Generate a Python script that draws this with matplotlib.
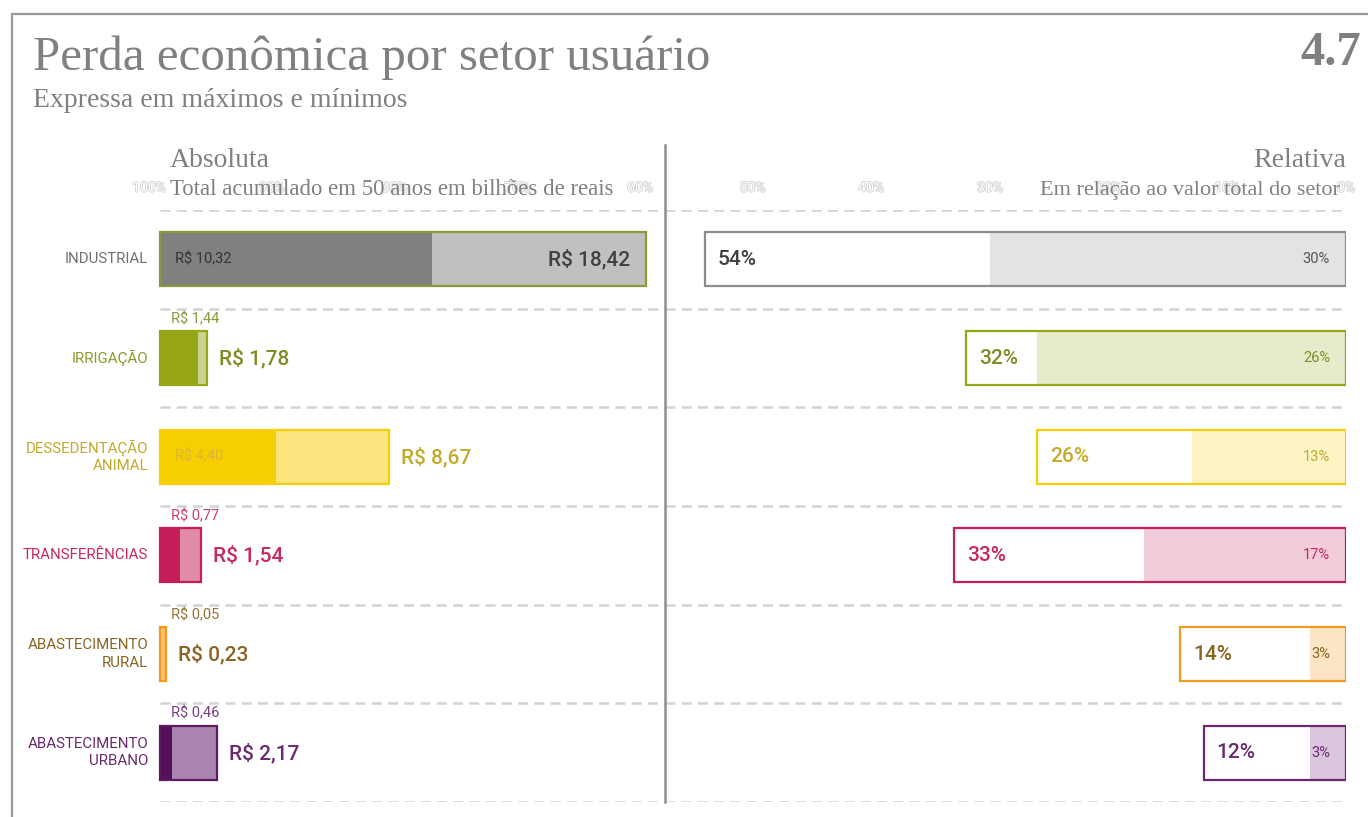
import matplotlib
matplotlib.use("Agg")
import matplotlib.pyplot as plt
import matplotlib.patheffects as pe
from matplotlib.patches import Rectangle
import numpy as np

# data
sectors = ["INDUSTRIAL", "IRRIGAÇÃO", "DESSEDENTAÇÃO\nANIMAL", "TRANSFERÊNCIAS",
           "ABASTECIMENTO\nRURAL", "ABASTECIMENTO\nURBANO"]
abs_min = [10.32, 1.44, 4.40, 0.77, 0.05, 0.46]   # R$ bilhões
abs_max = [18.42, 1.78, 8.67, 1.54, 0.23, 2.17]
rel_max = [54, 32, 26, 33, 14, 12]                # % do valor total do setor
rel_min = [30, 26, 13, 17, 3, 3]
left_ticks = [100, 90, 80, 70, 60]
right_ticks = [50, 40, 30, 20, 10, 0]

# colours per sector
abs_dark = ["#808080", "#97A617", "#F7CE00", "#C41E5A", "#F39A1E", "#541058"]
abs_light = ["#C0C0C0", "#C9D38F", "#FCE57F", "#E08BA8", "#F9C070", "#A985B0"]
abs_edge = ["#8C9B3A", "#97A617", "#F7CE00", "#C41E5A", "#F39A1E", "#5C1A60"]
rel_light = ["#E3E3E3", "#E6EBCB", "#FDF3C4", "#F1CCDB", "#FCE5C5", "#DCC6DF"]
rel_edge = ["#8C8C8C", "#97A617", "#F7CE00", "#C41E5A", "#F39A1E", "#6B2A70"]
txt_col = ["#404040", "#7E8C24", "#C4A92C", "#C8285E", "#8B6420", "#6A2A6E"]
cat_col = ["#707070", "#8A9A2A", "#C4A92C", "#C8285E", "#8B6420", "#6A2A6E"]
min_in_col = ["#333333", None, "#D8B63A", None, None, None]

SERIF = "Liberation Serif"
VAL = ["Roboto", "DejaVu Sans"]
GREY = "#808080"

W, H = 1368, 817
fig = plt.figure(figsize=(W / 100, H / 100), dpi=100)
fig.patch.set_facecolor("white")


def fx(px):
    return px / W


def fy(py):
    return 1 - py / H


top, bottom = 210, 802
ax_l = fig.add_axes([fx(140), fy(bottom), fx(665) - fx(140), (bottom - top) / H])
ax_r = fig.add_axes([fx(665), fy(bottom), fx(1346) - fx(665), (bottom - top) / H])

y = np.arange(len(sectors))
h = 0.55
l_scale = 26.39   # px per bilhão
r_scale = 11.87   # px per %

# ---- left panel: absolute ----
ax_l.set_xlim(-20 / l_scale, 505 / l_scale)
ax_l.set_ylim(len(sectors) - 0.5, -0.5)
ax_l.barh(y, abs_max, height=h, color=abs_light, linewidth=0, zorder=2)
ax_l.barh(y, abs_min, height=h, color=abs_dark, linewidth=0, zorder=3)
ax_l.barh(y, abs_max, height=h, fill=False, edgecolor=abs_edge, linewidth=1.6, zorder=4)
ax_l.hlines(np.arange(len(sectors) + 1) - 0.5, 0, 505 / l_scale, colors="#D3D3D3",
            linestyles=(0, (4, 2.5)), linewidth=1.8, zorder=1)

for i in range(len(sectors)):
    ax_l.annotate(sectors[i], xy=(0, i), xytext=(-12, 0), textcoords="offset pixels",
                  ha="right", va="center", fontsize=10.8, color=cat_col[i],
                  family=VAL, linespacing=1.3)
    mx = f"R$ {abs_max[i]:.2f}".replace(".", ",")
    mn = f"R$ {abs_min[i]:.2f}".replace(".", ",")
    if abs_max[i] > 10:
        ax_l.annotate(mx, xy=(abs_max[i], i), xytext=(-16, 0), textcoords="offset pixels",
                      ha="right", va="center", fontsize=15, color=txt_col[i],
                      family=VAL, fontweight="medium", zorder=5)
    else:
        ax_l.annotate(mx, xy=(abs_max[i], i), xytext=(12, 0), textcoords="offset pixels",
                      ha="left", va="center", fontsize=15, color=txt_col[i],
                      family=VAL, fontweight="medium")
    if abs_min[i] > 2:
        ax_l.annotate(mn, xy=(0, i), xytext=(15, 0), textcoords="offset pixels",
                      ha="left", va="center", fontsize=10.5, color=min_in_col[i],
                      family=VAL, zorder=5)
    else:
        ax_l.annotate(mn, xy=(0, i - h / 2), xytext=(11, 5), textcoords="offset pixels",
                      ha="left", va="bottom", fontsize=10.5, color=txt_col[i],
                      family=VAL, alpha=0.9)

# ghost percentage ticks on the left
ax_lt = ax_l.twiny()
px_per_pct = (640 - 149) / 40
ax_lt.set_xlim(100 + 9 / px_per_pct, 100 - 516 / px_per_pct)
ax_lt.set_xticks(left_ticks)
ax_lt.set_xticklabels([f"{t}%" for t in left_ticks])

# ---- right panel: relative ----
ax_r.set_xlim(681 / r_scale, 0)
ax_r.set_ylim(len(sectors) - 0.5, -0.5)
ax_r.barh(y, rel_max, height=h, color="white", linewidth=0, zorder=2)
ax_r.barh(y, rel_min, height=h, color=rel_light, linewidth=0, zorder=3)
ax_r.barh(y, rel_max, height=h, fill=False, edgecolor=rel_edge, linewidth=1.6, zorder=4)
for b in np.arange(len(sectors) + 1) - 0.5:
    ax_r.axhline(b, color="#D3D3D3", linestyle=(0, (4, 2.5)), linewidth=1.8, zorder=1)
ax_r.axvline(681 / r_scale, ymin=0, ymax=1 + 65 / (bottom - top), color="#8F8F8F",
             linewidth=1.8, clip_on=False, zorder=6)

for i in range(len(sectors)):
    ax_r.annotate(f"{rel_max[i]}%", xy=(rel_max[i], i), xytext=(13, 0),
                  textcoords="offset pixels", ha="left", va="center", fontsize=15,
                  color=txt_col[i], family=VAL, fontweight="medium", zorder=5)
    ax_r.annotate(f"{rel_min[i]}%", xy=(0, i), xytext=(-16, 0),
                  textcoords="offset pixels", ha="right", va="center", fontsize=10.5,
                  color=txt_col[i] if i else "#555555", family=VAL, zorder=5)

ax_r.xaxis.tick_top()
ax_r.set_xticks(right_ticks)
ax_r.set_xticklabels([f"{t}%" for t in right_ticks])

for ax in (ax_l, ax_lt, ax_r):
    for s in ax.spines.values():
        s.set_visible(False)
    ax.set_yticks([])
    ax.patch.set_alpha(0)
ax_l.set_xticks([])
for ax in (ax_lt, ax_r):
    ax.tick_params(axis="x", top=True, bottom=False, labeltop=True, labelbottom=False,
                   length=0, pad=11, labelsize=10, labelcolor="white")
    for lbl in ax.get_xticklabels():
        lbl.set_family(VAL)
        lbl.set_path_effects([pe.withStroke(linewidth=1.2, foreground="#D2D2D2")])

# ---- titles and frame ----
fig.add_artist(Rectangle((fx(12), -0.2), 2, fy(14) + 0.2, transform=fig.transFigure,
                         fill=False, edgecolor="#9A9A9A", linewidth=1.6, clip_on=False))
fig.text(fx(33), fy(70), "Perda econômica por setor usuário", family=SERIF,
         fontsize=35.3, color=GREY, va="baseline", ha="left")
fig.text(fx(33), fy(107), "Expressa em máximos e mínimos", family=SERIF,
         fontsize=20, color=GREY, va="baseline", ha="left")
fig.text(fx(1361), fy(65), "4.7", family=SERIF, fontsize=35, fontweight="bold",
         color=GREY, va="baseline", ha="right")
fig.text(fx(170), fy(167), "Absoluta", family=SERIF, fontsize=20, color=GREY,
         va="baseline", ha="left")
fig.text(fx(170), fy(195), "Total acumulado em 50 anos em bilhões de reais", family=SERIF,
         fontsize=16.4, color=GREY, va="baseline", ha="left")
fig.text(fx(1346), fy(167), "Relativa", family=SERIF, fontsize=20, color=GREY,
         va="baseline", ha="right")
fig.text(fx(1340), fy(195), "Em relação ao valor total do setor", family=SERIF,
         fontsize=16, color=GREY, va="baseline", ha="right")

fig.savefig("out.png", dpi=100, facecolor="white")
